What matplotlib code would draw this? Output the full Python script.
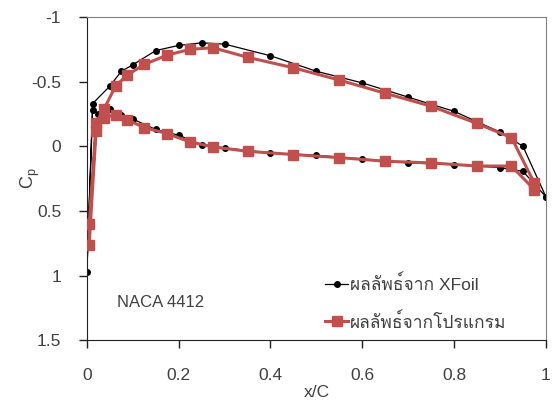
import matplotlib
matplotlib.use("Agg")
import matplotlib.pyplot as plt
from matplotlib import font_manager
from matplotlib.ft2font import FT2Font
from matplotlib.ticker import FuncFormatter

# XFoil result, NACA 4412 (upper TE -> LE -> lower TE)
xfoil_x = [1.0, 0.95, 0.9, 0.8, 0.7, 0.6, 0.5, 0.4, 0.3, 0.25, 0.2, 0.15, 0.1,
           0.075, 0.05, 0.0125, 0.0,
           0.0125, 0.025, 0.05, 0.075, 0.1, 0.15, 0.2, 0.25, 0.3, 0.4, 0.5,
           0.6, 0.7, 0.8, 0.9, 0.95, 1.0]
xfoil_cp = [0.39, 0.0, -0.11, -0.27, -0.38, -0.49, -0.58, -0.70, -0.79, -0.80,
            -0.78, -0.74, -0.63, -0.58, -0.465, -0.33, 0.975,
            -0.28, -0.25, -0.29, -0.24, -0.21, -0.13, -0.085, -0.013, 0.013,
            0.052, 0.07, 0.098, 0.129, 0.142, 0.165, 0.194, 0.39]

# panel-method program result
prog_x = [0.975, 0.925, 0.85, 0.75, 0.65, 0.55, 0.45, 0.35, 0.275, 0.225,
          0.175, 0.125, 0.0875, 0.0625, 0.0375, 0.02, 0.005,
          0.005, 0.02, 0.0375, 0.0625, 0.0875, 0.125, 0.175, 0.225, 0.275,
          0.35, 0.45, 0.55, 0.65, 0.75, 0.85, 0.925, 0.975]
prog_cp = [0.285, -0.067, -0.176, -0.31, -0.41, -0.512, -0.607, -0.688, -0.762,
           -0.75, -0.705, -0.633, -0.55, -0.465, -0.29, -0.176, 0.60,
           0.76, -0.12, -0.22, -0.245, -0.205, -0.145, -0.098, -0.033, 0.005,
           0.039, 0.064, 0.088, 0.116, 0.129, 0.153, 0.153, 0.336]

x_ticks = [0, 0.2, 0.4, 0.6, 0.8, 1]
y_ticks = [-1, -0.5, 0, 0.5, 1, 1.5]
label_xfoil = "ผลลัพธ์จาก XFoil"
label_prog = "ผลลัพธ์จากโปรแกรม"


def thai_family():
    # pick any installed font that has Thai glyphs
    for f in font_manager.fontManager.ttflist:
        try:
            if 0x0E1C in FT2Font(f.fname).get_charmap():
                return f.name
        except Exception:
            continue
    return None


thai = thai_family()
fams = ["Liberation Sans"] + ([thai] if thai else []) + ["DejaVu Sans"]
plt.rcParams["font.family"] = fams
plt.rcParams["font.size"] = 12.5

txt = "#404040"

fig = plt.figure(figsize=(5.57, 4.04), dpi=100)
ax = fig.add_axes([0.156, 0.158, 0.824, 0.8])

ax.plot(xfoil_x, xfoil_cp, color="black", lw=0.9, marker="o", ms=4,
        label=label_xfoil, zorder=2)
ax.plot(prog_x, prog_cp, color="#C0504D", lw=2.2, marker="s", ms=6.5,
        label=label_prog, zorder=3)

ax.set_xlim(0, 1)
ax.set_ylim(1.5, -1)
ax.set_xticks(x_ticks)
ax.set_yticks(y_ticks)
fmt = FuncFormatter(lambda v, p: f"{v:g}")
ax.xaxis.set_major_formatter(fmt)
ax.yaxis.set_major_formatter(fmt)
ax.tick_params(direction="out", length=5.5, width=1, colors="#222222",
               labelcolor=txt, labelsize=12.5)
ax.tick_params(axis="x", pad=14.5)
ax.tick_params(axis="y", pad=13)

for side in ["top", "right"]:
    ax.spines[side].set_color("#808080")
for side in ["left", "bottom"]:
    ax.spines[side].set_color("#222222")

ax.set_xlabel("x/C", color=txt, fontsize=12.5, labelpad=1.5)
ax.set_ylabel(r"C$_\mathregular{p}$", color=txt, fontsize=13, labelpad=-8)

ax.text(0.065, 1.21, "NACA 4412", fontsize=12, color=txt,
        va="center", ha="left")

ax.legend(loc="upper left", bbox_to_anchor=(0.5835, 0.322),
          bbox_transform=fig.transFigure, frameon=False, handlelength=1.33,
          handletextpad=0.1, labelspacing=1.1, fontsize=12.5,
          borderpad=0, borderaxespad=0, labelcolor=txt)

fig.savefig("out.png", dpi=100)
